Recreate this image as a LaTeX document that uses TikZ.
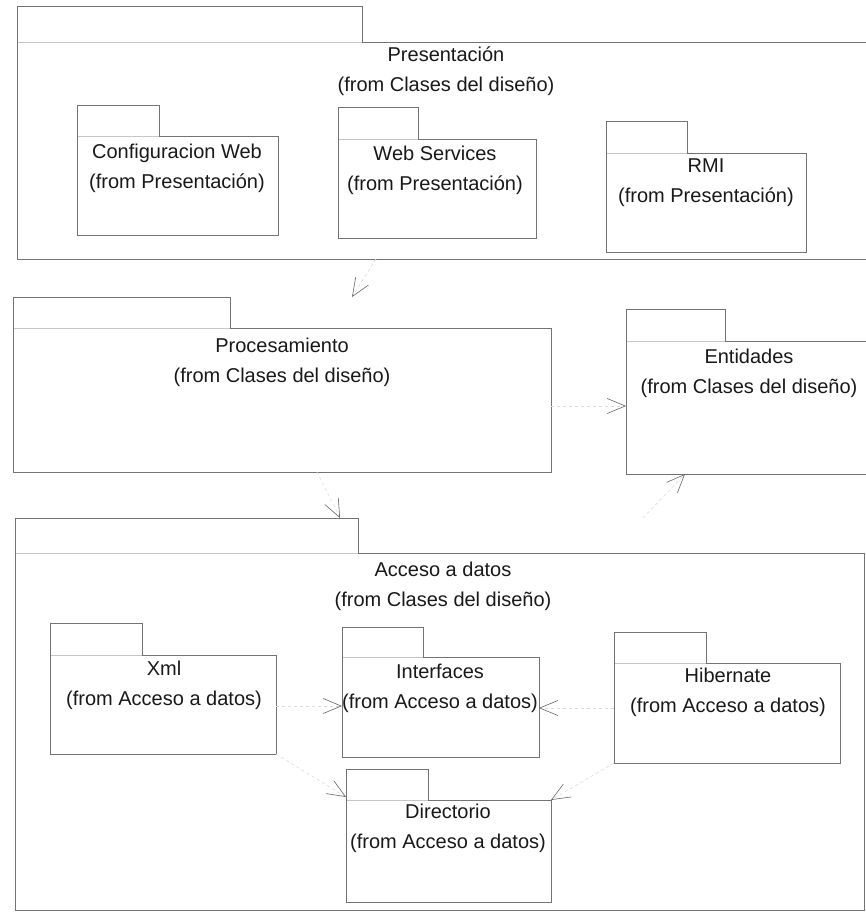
\documentclass[tikz,border=0pt]{standalone}
\usepackage{fontspec}
\setmainfont{Liberation Sans}
\usetikzlibrary{arrows.meta,calc}

\tikzset{
  pkgbox/.style={rectangle, draw=none, inner sep=0pt, outer sep=0pt, anchor=north west},
  pkgline/.style={draw=black!55, line width=0.6pt},
  tabfloor/.style={draw=black!22, line width=0.5pt},
  pkglabel/.style={align=center, inner sep=0pt, text=black!90,
    font=\fontsize{20}{30}\selectfont},
  dep/.style={draw=black!14, dashed, line width=0.6pt,
    -{Straight Barb[length=18pt,width=15pt,color=black!60]}},
}

% UML package: name, left, tab top, tab right, body top, right, bottom
\newcommand\umlpackage[7]{%
  \node[pkgbox, minimum width={#6-#2}, minimum height={#7-#3}] (#1) at (#2,#3) {};
  \draw[pkgline] (#2,#5) -- (#2,#3) -- (#4,#3) -- (#4,#5);
  \draw[tabfloor] (#2,#5) -- (#4,#5);
  \draw[pkgline] (#4,#5) -- (#6,#5) -- (#6,#7) -- (#2,#7) -- (#2,#5);
}

\begin{document}
\begin{tikzpicture}[x=1pt,y=-1pt]
\path[use as bounding box] (0,0) rectangle (866,916);
\fill[white] (0,0) rectangle (866,916);
\clip (0,0) rectangle (866,916);

% top layer
\umlpackage{pres}{17}{6}{362}{42}{880}{259}
\node[pkglabel] (presl) at (446,71) {Presentación\\(from Clases del diseño)};
\umlpackage{cw}{77}{105}{159}{136}{278}{235}
\node[pkglabel] (cwl) at (177,168) {Configuracion Web\\(from Presentación)};
\umlpackage{ws}{338}{107}{418}{139}{536}{238}
\node[pkglabel] (wsl) at (435,170) {Web Services\\(from Presentación)};
\umlpackage{rmi}{606}{121}{687}{153}{806}{252}
\node[pkglabel] (rmil) at (706,183) {RMI\\(from Presentación)};

% middle layer
\umlpackage{proc}{13}{297}{230}{328}{551}{472}
\node[pkglabel] (procl) at (282,362) {Procesamiento\\(from Clases del diseño)};
\umlpackage{ent}{626}{309}{725}{341}{880}{474}
\node[pkglabel] (entl) at (749,373) {Entidades\\(from Clases del diseño)};

% data access layer
\umlpackage{acc}{15}{518}{358}{553}{864}{910}
\node[pkglabel] (accl) at (443,586) {Acceso a datos\\(from Clases del diseño)};
\umlpackage{xml}{50}{623}{142}{655}{276}{754}
\node[pkglabel] (xmll) at (164,685) {Xml\\(from Acceso a datos)};
\umlpackage{intf}{342}{627}{423}{657}{539}{757}
\node[pkglabel] (intfl) at (440,688) {Interfaces\\(from Acceso a datos)};
\umlpackage{hib}{614}{632}{706}{663}{840}{763}
\node[pkglabel] (hibl) at (728,692) {Hibernate\\(from Acceso a datos)};
\umlpackage{dir}{346}{769}{428}{800}{551}{902}
\node[pkglabel] (dirl) at (448,828) {Directorio\\(from Acceso a datos)};

% dependencies
\coordinate (entin) at ($(ent.north west)+(0,97)$);
\coordinate (intfinl) at ($(intf.north west)+(0,79)$);
\coordinate (intfinr) at ($(intf.north east)+(0,81)$);
\draw[dep] ($(pres.south west)+(359,0)$) -- ($(proc.north west)+(339,0)$);
\draw[dep] (proc.east |- entin) -- (entin);
\draw[dep] ($(acc.north west)+(628,0)$) -- ($(ent.south west)+(59,0)$);
\draw[dep] ($(proc.south west)+(304,0)$) -- ($(acc.north west)+(325,0)$);
\draw[dep] (xml.east |- intfinl) -- (intfinl);
\draw[dep] (hib.west |- intfinr) -- (intfinr);
\draw[dep] (xml.south east) -- ($(dir.north west)+(0,28)$);
\draw[dep] (hib.south west) -- ($(dir.north east)+(0,31)$);
\end{tikzpicture}
\end{document}
